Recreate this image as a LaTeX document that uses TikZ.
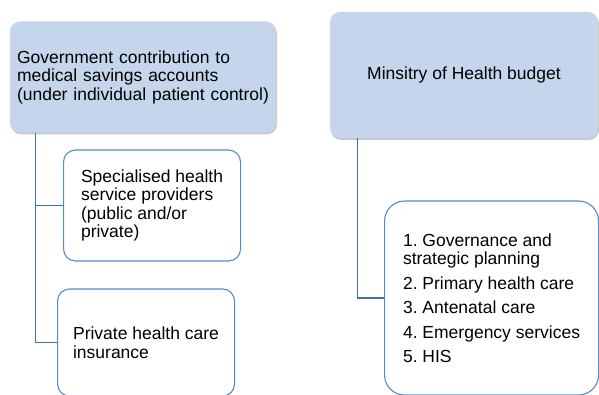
\documentclass[tikz,border=0pt]{standalone}
\usepackage{fontspec}
\setmainfont{Liberation Sans}
\frenchspacing
\usepackage{tikz}
\usetikzlibrary{shapes, arrows}
\usetikzlibrary{positioning, shadows}
\definecolor{headfill}{RGB}{197,214,236}
\definecolor{subdraw}{RGB}{88,138,202}
\definecolor{linkblue}{RGB}{66,112,172}
\tikzstyle{head} = [
  rectangle, rounded corners = 10,
  fill = headfill, draw = none,
  drop shadow = {shadow xshift = 1pt, shadow yshift = -2pt,
    opacity = 0.35, fill = black!60},
  font = \fontsize{17.5}{18.5}\selectfont
]
\tikzstyle{sub} = [
  rectangle, rounded corners = 12,
  fill = white, draw = subdraw, line width = 1.1,
  align = left, anchor = west,
  font = \fontsize{17.5}{18.5}\selectfont
]
\tikzstyle{link} = [draw = linkblue, line width = 1.2]

\begin{document}
\begin{tikzpicture}[x = 1pt, y = -1pt]
      \useasboundingbox (0, 0) rectangle (599, 395);
      % left column
      \node [head, minimum width = 266, minimum height = 111, align = left,
        text width = 252] (gov) at (143, 77)
        {Government contribution to\\medical savings accounts\\(under individual patient control)};
      \node [sub, minimum width = 177, minimum height = 111] (spec) at (63, 205.5)
        {Specialised health\\service providers\\(public and/or\\private)};
      \node [sub, minimum width = 177, minimum height = 107] (ins) at (57, 342.5)
        {Private health care\\insurance};
      % right column
      \node [head, minimum width = 268, minimum height = 126] (moh) at (464, 75)
        {Minsitry of Health budget};
      \node [sub, rounded corners = 20, minimum width = 214,
        minimum height = 194] (plan) at (384, 298)
        {1. Governance and\\strategic planning\\[6pt]2. Primary health care\\[6pt]3. Antenatal care\\[6pt]4. Emergency services\\[6pt]5. HIS};

      \coordinate (gov-trunk) at ([xshift = 26]gov.south west);
      \coordinate (moh-trunk) at ([xshift = 28]moh.south west);
      \draw [link] (gov-trunk) |- (spec.west);
      \draw [link] (gov-trunk) |- (ins.west);
      \draw [link] (moh-trunk) |- (plan.west);
    \end{tikzpicture}
\end{document}
